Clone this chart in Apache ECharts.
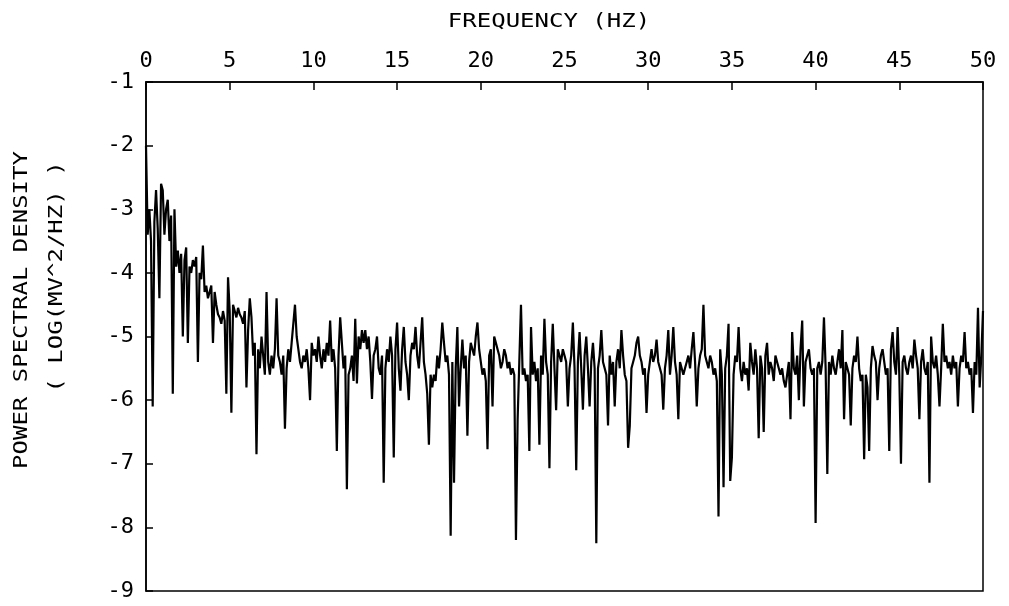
<!DOCTYPE html>
<html>
<head>
<meta charset="utf-8">
<script src="https://cdn.jsdelivr.net/npm/echarts@6/dist/echarts.min.js"></script>
<style>
html,body{margin:0;padding:0;background:#fff;}
#chart{width:1009px;height:606px;}
</style>
</head>
<body>
<div id="chart"></div>
<script>
// Frequency step of the spectrum (Hz) and axis ranges
const freqStep = 0.1;
const xTicks = [0, 5, 10, 15, 20, 25, 30, 35, 40, 45, 50];
const yTicks = [-1, -2, -3, -4, -5, -6, -7, -8, -9];
const xTitle = 'FREQUENCY (HZ)';
const yTitle1 = 'POWER SPECTRAL DENSITY';
const yTitle2 = '( LOG(MV^2/HZ) )';

// Log power spectral density, one value every 0.1 Hz from 0 to 50 Hz
const psd = [
  -2.0, -3.4, -3.0, -3.5, -6.1, -3.2, -2.7, -3.3, -4.4, -2.6,
  -2.7, -3.4, -3.0, -2.85, -3.5, -3.1, -5.9, -3.0, -3.9, -3.65,
  -4.0, -3.7, -5.0, -3.8, -3.6, -5.1, -3.9, -4.0, -3.8, -3.9,
  -3.75, -5.4, -4.0, -4.1, -3.57, -4.3, -4.2, -4.4, -4.3, -4.2,
  -5.1, -4.3, -4.5, -4.65, -4.7, -4.8, -4.6, -4.75, -5.9, -4.07,
  -4.6, -6.2, -4.5, -4.6, -4.7, -4.55, -4.65, -4.7, -4.8, -4.6,
  -5.8, -4.9, -4.4, -4.7, -5.3, -5.1, -6.85, -5.2, -5.5, -5.0,
  -5.3, -5.6, -4.3, -5.4, -5.6, -5.3, -5.5, -5.2, -4.4, -5.3,
  -5.4, -5.6, -5.3, -6.45, -5.5, -5.2, -5.4, -5.1, -4.8, -4.5,
  -5.0, -5.2, -5.4, -5.5, -5.3, -5.4, -5.2, -5.5, -6.0, -5.1,
  -5.3, -5.2, -5.4, -5.0, -5.3, -5.5, -5.2, -5.4, -5.1, -5.3,
  -4.75, -5.4, -5.2, -5.5, -6.8, -5.3, -4.7, -5.1, -5.5, -5.3,
  -7.4, -5.6, -5.5, -5.3, -5.7, -4.72, -5.74, -5.0, -5.2, -4.9,
  -5.1, -4.9, -5.2, -5.0, -5.4, -5.98, -5.3, -5.2, -5.0, -5.5,
  -5.6, -5.3, -7.3, -5.5, -5.2, -5.4, -5.0, -5.3, -6.9, -5.2,
  -4.78, -5.5, -5.85, -5.2, -4.85, -5.4, -5.6, -6.0, -5.3, -5.1,
  -5.2, -4.85, -5.3, -5.5, -5.1, -4.7, -5.4, -5.6, -5.9, -6.7,
  -5.6, -5.8, -5.6, -5.7, -5.3, -5.5, -5.2, -4.78, -5.1, -5.4,
  -5.3, -5.6, -8.13, -5.4, -7.3, -5.5, -4.85, -6.1, -5.5, -5.05,
  -5.5, -5.3, -6.56, -5.4, -5.1, -5.2, -5.3, -5.0, -4.78, -5.2,
  -5.4, -5.6, -5.5, -5.7, -6.77, -5.3, -5.2, -6.1, -5.0, -5.1,
  -5.2, -5.3, -5.5, -5.4, -5.2, -5.3, -5.5, -5.4, -5.6, -5.5,
  -5.6, -8.2, -6.3, -5.4, -4.5, -5.6, -5.5, -5.7, -5.6, -6.8,
  -4.85, -5.6, -5.4, -5.7, -5.5, -6.7, -5.3, -5.6, -4.72, -5.4,
  -5.6, -7.07, -5.4, -4.8, -5.5, -6.16, -5.2, -5.3, -5.4, -5.2,
  -5.3, -5.4, -6.1, -5.5, -5.3, -4.78, -5.5, -7.1, -5.4, -4.93,
  -5.5, -6.15, -5.3, -5.0, -5.5, -6.1, -5.4, -5.1, -5.5, -8.25,
  -5.5, -5.3, -4.9, -5.4, -5.5, -5.6, -6.4, -5.3, -5.6, -5.4,
  -6.1, -5.4, -5.2, -5.5, -4.9, -5.3, -5.6, -5.7, -6.75, -6.4,
  -5.5, -5.4, -5.3, -5.1, -5.0, -5.3, -5.4, -5.6, -5.5, -6.2,
  -5.6, -5.4, -5.2, -5.4, -5.3, -5.05, -5.4, -5.5, -5.6, -6.15,
  -5.5, -5.3, -4.9, -5.6, -5.3, -4.85, -5.4, -5.6, -6.3, -5.4,
  -5.5, -5.6, -5.5, -5.4, -5.3, -5.5, -5.2, -4.93, -5.4, -6.1,
  -5.5, -5.3, -5.2, -4.5, -5.3, -5.4, -5.5, -5.3, -5.4, -5.6,
  -5.5, -5.7, -7.83, -5.2, -5.6, -7.37, -5.5, -5.3, -4.8, -7.27,
  -6.9, -5.6, -5.3, -5.4, -4.85, -5.5, -5.7, -5.4, -5.6, -5.5,
  -5.85, -5.1, -5.4, -5.6, -5.2, -5.5, -6.6, -5.3, -5.5, -6.5,
  -5.3, -5.1, -5.6, -5.4, -5.5, -5.7, -5.3, -5.4, -5.5, -5.6,
  -5.5, -5.7, -5.8, -5.6, -5.4, -6.3, -4.93, -5.5, -5.6, -5.3,
  -6.0, -5.2, -4.75, -6.1, -5.4, -5.3, -5.2, -5.5, -5.6, -5.5,
  -7.93, -5.5, -5.4, -5.6, -5.4, -4.7, -5.5, -7.16, -5.4, -5.6,
  -5.3, -5.5, -5.6, -5.4, -5.2, -5.5, -4.9, -6.3, -5.4, -5.5,
  -5.6, -6.4, -5.5, -5.3, -5.4, -5.0, -5.5, -5.7, -5.6, -6.93,
  -5.6, -5.8, -6.8, -5.5, -5.15, -5.3, -5.4, -6.0, -5.5, -5.3,
  -5.2, -5.4, -5.6, -5.5, -6.8, -5.2, -4.93, -5.4, -5.6, -4.85,
  -5.6, -7.0, -5.4, -5.3, -5.5, -5.6, -5.4, -5.3, -5.5, -5.05,
  -5.3, -5.5, -6.3, -5.4, -5.2, -5.5, -5.6, -5.4, -7.3, -5.0,
  -5.4, -5.5, -5.3, -5.6, -6.1, -5.5, -4.8, -5.4, -5.3, -5.5,
  -5.4, -5.6, -5.3, -5.5, -5.4, -6.1, -5.5, -5.3, -5.4, -4.93,
  -5.5, -5.4, -5.6, -5.5, -6.2, -5.4, -5.6, -4.55, -5.8, -5.3,
  -4.6
];

const seriesData = psd.map((v, i) => [+(i * freqStep).toFixed(2), v]);

const FONT = '"DejaVu Sans Mono", monospace';
const chart = echarts.init(document.getElementById('chart'), null, {renderer: 'canvas'});

chart.setOption({
  animation: false,
  backgroundColor: '#fff',
  grid: {
    left: 146, right: 26, top: 82, bottom: 15,
    show: true, borderColor: '#000', borderWidth: 1.5, backgroundColor: 'transparent'
  },
  xAxis: {
    type: 'value',
    position: 'top',
    min: xTicks[0], max: xTicks[xTicks.length - 1], interval: 5,
    axisLine: {show: true, lineStyle: {color: '#000', width: 1.5}},
    axisTick: {show: true, inside: true, length: 8, lineStyle: {color: '#000', width: 1.5}},
    axisLabel: {color: '#000', fontFamily: FONT, fontSize: 22, margin: 10},
    splitLine: {show: false}
  },
  yAxis: {
    type: 'value',
    min: yTicks[yTicks.length - 1], max: yTicks[0], interval: 1,
    axisLine: {show: true, lineStyle: {color: '#000', width: 1.5}},
    axisTick: {show: true, inside: true, length: 7, lineStyle: {color: '#000', width: 1.5}},
    axisLabel: {color: '#000', fontFamily: FONT, fontSize: 22, margin: 12},
    splitLine: {show: false}
  },
  graphic: [
    {type: 'text', x: 549, y: 22, scaleX: 1.2,
     style: {text: xTitle, font: '20px ' + FONT, fill: '#000', textAlign: 'center', textVerticalAlign: 'middle'}},
    {type: 'text', x: 22, y: 310, rotation: Math.PI / 2, scaleX: 1.2,
     style: {text: yTitle1, font: '20px ' + FONT, fill: '#000', textAlign: 'center', textVerticalAlign: 'middle'}},
    {type: 'text', x: 57, y: 277, rotation: Math.PI / 2, scaleX: 1.2,
     style: {text: yTitle2, font: '20px ' + FONT, fill: '#000', textAlign: 'center', textVerticalAlign: 'middle'}}
  ],
  series: [{
    type: 'line',
    data: seriesData,
    showSymbol: false,
    symbol: 'none',
    lineStyle: {color: '#000', width: 2.2},
    clip: true
  }]
});
</script>
</body>
</html>
